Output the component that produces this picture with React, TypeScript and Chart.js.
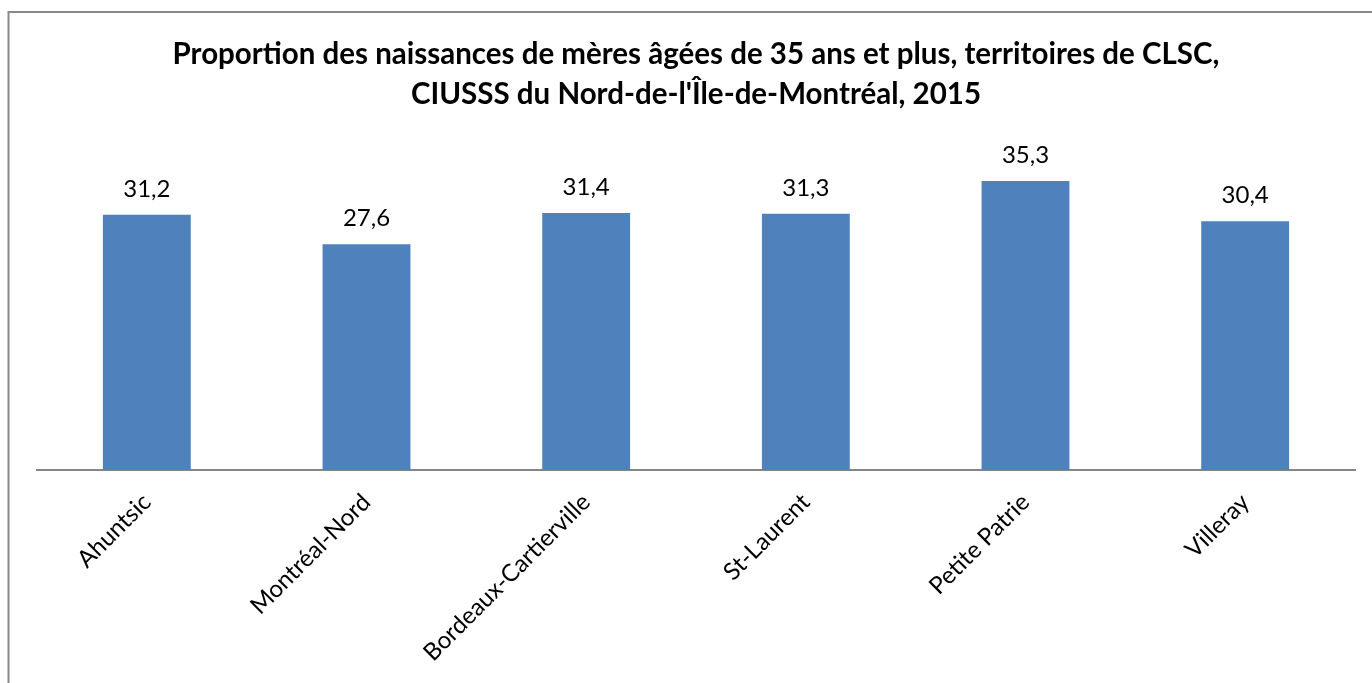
import React, { useEffect, useRef } from "react";
import { Chart, registerables } from "chart.js";

Chart.register(...registerables);

const categories = [
  "Ahuntsic",
  "Montréal-Nord",
  "Bordeaux-Cartierville",
  "St-Laurent",
  "Petite Patrie",
  "Villeray",
];
const values = [31.2, 27.6, 31.4, 31.3, 35.3, 30.4];
const titleLines = [
  "Proportion des naissances de mères âgées de 35 ans et plus, territoires de CLSC,",
  "CIUSSS du Nord-de-l'Île-de-Montréal, 2015",
];
const yMin = 0;
const yMax = 40;

const FONT = "Lato, 'Open Sans', sans-serif";

const framePlugin = {
  id: "frame",
  beforeDraw(chart: any) {
    const ctx = chart.ctx;
    ctx.save();
    ctx.fillStyle = "#ffffff";
    ctx.fillRect(0, 0, chart.width, chart.height);
    ctx.strokeStyle = "#898989";
    ctx.lineWidth = 2;
    ctx.beginPath();
    ctx.moveTo(8.5, chart.height);
    ctx.lineTo(8.5, 12);
    ctx.lineTo(chart.width, 12);
    ctx.stroke();
    ctx.restore();
  },
};

const valueLabelPlugin = {
  id: "valueLabels",
  afterDatasetsDraw(chart: any) {
    const ctx = chart.ctx;
    const meta = chart.getDatasetMeta(0);
    ctx.save();
    ctx.fillStyle = "#000000";
    ctx.font = `24px ${FONT}`;
    ctx.textAlign = "center";
    ctx.textBaseline = "alphabetic";
    meta.data.forEach((bar: any, i: number) => {
      const v = chart.data.datasets[0].data[i] as number;
      ctx.fillText(v.toFixed(1).replace(".", ","), bar.x, bar.y - 18);
    });
    ctx.restore();
  },
};

export default function App() {
  const ref = useRef<HTMLCanvasElement>(null);
  useEffect(() => {
    if (!ref.current) return;
    const chart = new Chart(ref.current, {
      type: "bar",
      data: {
        labels: categories,
        datasets: [
          {
            data: values,
            backgroundColor: "#4F81BD",
            borderWidth: 0,
            barPercentage: 0.4,
            categoryPercentage: 1,
          },
        ],
      },
      options: {
        responsive: false,
        animation: false,
        devicePixelRatio: 1,
        layout: { padding: { left: 37, right: 17, top: 0, bottom: 0 } },
        plugins: {
          legend: { display: false },
          tooltip: { enabled: false },
          title: {
            display: true,
            text: titleLines,
            color: "#000000",
            font: { family: FONT, size: 29.5, weight: "bold", lineHeight: 1.35 },
            padding: { top: 35, bottom: 28 },
          },
        },
        scales: {
          y: { display: false, min: yMin, max: yMax },
          x: {
            grid: { display: false, drawTicks: false },
            border: { display: true, color: "#868686", width: 2 },
            ticks: {
              autoSkip: false,
              minRotation: 45,
              maxRotation: 45,
              padding: 18,
              color: "#000000",
              font: { family: FONT, size: 24 },
            },
            afterFit(scale: any) {
              scale.height = 213;
            },
          },
        },
      },
      plugins: [framePlugin, valueLabelPlugin],
    });
    return () => chart.destroy();
  }, []);
  return (
    <div style={{ position: "fixed", left: 0, top: 0, width: 1372, height: 683 }}>
      <canvas ref={ref} width={1372} height={683} style={{ display: "block" }} />
    </div>
  );
}
